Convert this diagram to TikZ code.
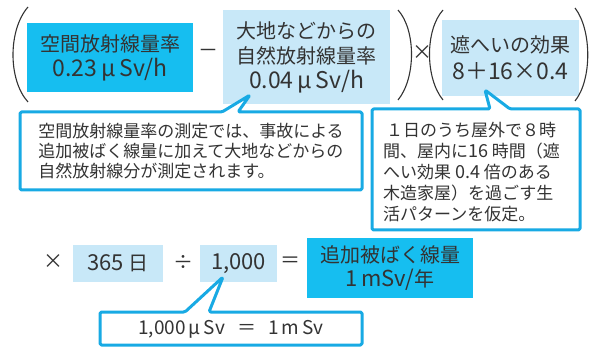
\documentclass[tikz,border=0pt]{standalone}
\usepackage{fontspec}
\setmainfont{Noto Sans CJK JP}
\definecolor{darkcyan}{HTML}{16BEF0}
\definecolor{lightblue}{HTML}{C8E8F8}
\definecolor{bordercol}{HTML}{18AAE4}
\definecolor{txt}{HTML}{333333}
\newcommand{\latbig}[1]{{\fontsize{23}{25}\selectfont #1}}
\newcommand{\latmid}[1]{{\fontsize{22}{24}\selectfont #1}}
\tikzset{
  darkbox/.style={fill=darkcyan, draw=none, inner sep=0pt, align=center, text=txt},
  lightbox/.style={fill=lightblue, draw=none, inner sep=0pt, align=center, text=txt},
  calloutshape/.style={draw=bordercol, fill=white, line width=3pt, rounded corners=1.5pt, line join=round},
  optext/.style={text=txt, inner sep=0pt, font=\fontsize{20}{24}\selectfont},
  paren/.style={draw=txt, line width=1.1pt},
}
\begin{document}
\begin{tikzpicture}[x=1pt, y=-1pt]
\useasboundingbox (0,0) rectangle (591,347);
% top row boxes
\node[darkbox, minimum width=166pt, minimum height=69pt, font=\fontsize{20}{25}\selectfont] (b1) at (110,57.5) {空間放射線量率\\\latbig{0.23\,μ\,Sv/h}};
\node[lightbox, minimum width=167pt, minimum height=94pt, font=\fontsize{20}{25}\selectfont] (b2) at (306.5,57) {大地などからの\\自然放射線量率\\\latbig{0.04\,μ\,Sv/h}};
\node[lightbox, minimum width=137pt, minimum height=76pt, font=\fontsize{20}{27}\selectfont] (b3) at (510.5,58) {遮へいの効果\\\latbig{8＋16×0.4}};
\node[optext] (minus) at (208,53) {－};
\node[optext] (times1) at (422,53) {×};
% parentheses
\draw[paren] (28,7) .. controls (8,30) and (8,80) .. (28,102);
\draw[paren] (398,10) .. controls (416,30) and (416,78) .. (398,100);
\draw[paren] (443,10) .. controls (425,30) and (425,78) .. (443,100);
\draw[paren] (575,8) .. controls (592,30) and (592,80) .. (575,101);
% callout 1
\coordinate (t1) at (250,95);
\draw[calloutshape] (222,112) -- (t1) -- (238,112) -- (362,112) -- (362,190) -- (20,190) -- (20,112) -- cycle;
\node[text=txt, align=left, inner sep=0pt, font=\fontsize{17}{20}\selectfont] (c1) at (191,151.5) {空間放射線量率の測定では、事故による\\追加被ばく線量に加えて大地などからの\\自然放射線分が測定されます。};
% callout 2
\coordinate (t2) at (485,90);
\draw[calloutshape] (490,109) -- (t2) -- (510,109) -- (580,109) -- (580,230) -- (372,230) -- (372,109) -- cycle;
\node[text=txt, align=left, inner sep=0pt, font=\fontsize{17}{21}\selectfont, anchor=west] (c2) at (383,172) {\,１日のうち屋外で８時\\間、屋内に{\fontsize{18}{21}\selectfont 16} 時間（遮\\へい効果 {\fontsize{18}{21}\selectfont 0.4} 倍のある\\木造家屋）を過ごす生\\活パターンを仮定。};
% bottom row
\node[optext] (times2) at (53,262) {×};
\node[lightbox, minimum width=90pt, minimum height=37pt, font=\fontsize{20}{24}\selectfont] (d1) at (118,263.5) {\latmid{365} 日};
\node[optext] (div) at (183,262) {÷};
\node[lightbox, minimum width=77pt, minimum height=37pt, font=\fontsize{20}{24}\selectfont] (d2) at (238.5,263.5) {\latmid{1,000}};
\node[optext] (eq) at (290,262) {＝};
\node[darkbox, minimum width=166pt, minimum height=60pt, font=\fontsize{20}{24}\selectfont] (res) at (390,268) {追加被ばく線量\\\latmid{1\,mSv/}年};
% callout 3
\coordinate (t3) at (223,277);
\draw[calloutshape] (185,312) -- (t3) -- (209,312) -- (362,312) -- (362,345) -- (100,345) -- (100,312) -- cycle;
\node[text=txt, inner sep=0pt, font=\fontsize{19}{20}\selectfont] (c3) at (231,329) {1,000\,μ\,Sv\hspace{12pt}＝\hspace{12pt}1\,m\,Sv};
\end{tikzpicture}
\end{document}
